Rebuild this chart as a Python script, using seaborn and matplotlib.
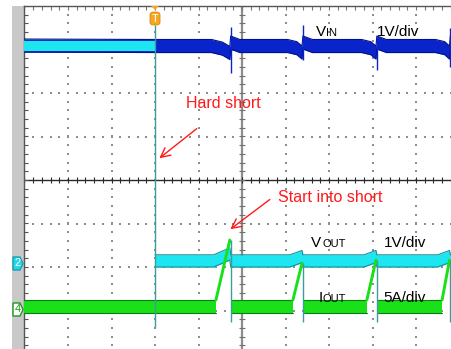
import numpy as np
import pandas as pd
import matplotlib
matplotlib.use("Agg")
import matplotlib.pyplot as plt
from matplotlib.patches import Polygon, Rectangle, FancyBboxPatch
import seaborn as sns

sns.set_style("white")
plt.rcParams['font.family'] = ['Liberation Sans', 'DejaVu Sans']

# ---- scope data, in graticule divisions (10 across, 8 high, 0 at centre) ----
trigger_t = 3.0
restart_t = [4.74, 6.40, 8.10, 9.79]

# V_IN band centre
vin_t = [0.0, 3.0, 4.30, 4.55, 4.72, 4.74, 4.95, 6.05, 6.26, 6.38, 6.40, 6.62,
         7.75, 7.96, 8.08, 8.10, 8.32, 9.45, 9.66, 9.77, 9.79, 10.0]
vin_v = [3.09, 3.08, 3.08, 3.02, 2.92, 3.16, 3.08, 3.08, 3.03, 2.93, 3.16, 3.08,
         3.08, 3.03, 2.93, 3.16, 3.08, 3.08, 3.03, 2.93, 3.16, 3.12]
vin_spike_lo = [2.46, 2.76, 2.53, 2.60]
vin_spike_hi = [3.52, 3.56, 3.28, 3.50]

# V_OUT before and after the short
vout_pre_t = [0.0, 3.0]
vout_pre_v = [3.09, 3.09]
vout_t = [3.0, 4.35, 4.72, 4.74, 6.10, 6.38, 6.40, 7.80, 8.08, 8.10,
          9.50, 9.77, 9.79, 10.0]
vout_v = [-1.86, -1.86, -1.70, -1.86, -1.86, -1.76, -1.86, -1.86, -1.76, -1.86,
          -1.86, -1.76, -1.86, -1.86]

# I_OUT: flat segments while in hiccup-off, ramps during each restart
iout_level = -2.91
iout_seg_start = [0.0, 4.76, 6.42, 8.12, 9.81]
iout_seg_end = [4.40, 6.17, 7.87, 9.60, 10.0]
iout_ramp_peak = [-1.38, -1.91, -1.84, -1.84]

trace_drop_bottom = -3.38
restart_drop_bottom = -3.26

band_vin, band_vout, band_iout = 0.15, 0.14, 0.15

C_VIN, C_VIN_EDGE = "#0a24cc", "#001488"
C_VOUT, C_VOUT_EDGE = "#1ee6f0", "#16909c"
C_IOUT, C_IOUT_EDGE = "#1ae01a", "#0a7f0a"
C_TEAL = "#3d9c9c"
C_RED = "#ff1a1a"

W, H = 452, 349
fig = plt.figure(figsize=(W / 100, H / 100), dpi=100)
fig.patch.set_facecolor("white")


def fx(px):
    return px / W


def fy(py):
    return 1 - py / H


# grey channel-marker strip on the left
fig.add_artist(Rectangle((fx(12), 0), fx(24) - fx(12), fy(6), transform=fig.transFigure,
                         facecolor="#c9c9c9", edgecolor="none", zorder=0))

ax = fig.add_axes([24.5 / W, (H - 354) / H, 435 / W, 348 / H])
ax.set_xlim(0, 10)
ax.set_ylim(-4, 4)
ax.set_xticks([])
ax.set_yticks([])
for side in ("right", "bottom"):
    ax.spines[side].set_visible(False)
for side in ("left", "top"):
    ax.spines[side].set_color("#555555")
    ax.spines[side].set_linewidth(1.0)

# ---- graticule ----
minor_x = np.arange(0, 10.01, 0.2)
minor_y = np.arange(-4, 4.01, 0.2)
gx, gy = [], []
for g in [1, 2, 3, 4, 6, 7, 8, 9]:
    gx += [g] * len(minor_y)
    gy += list(minor_y)
for g in [-3, -2, -1, 1, 2, 3]:
    gx += list(minor_x)
    gy += [g] * len(minor_x)
ax.scatter(gx, gy, s=2.2, marker="s", color="#8e8e8e", linewidths=0, zorder=1)
ax.axhline(0, color="#2a2a2a", lw=1.0, zorder=1)
ax.axvline(5, color="#8c8c8c", lw=1.6, zorder=1)
ax.plot(minor_x, np.zeros_like(minor_x), ls="none", marker="|", ms=5, mew=0.8,
        color="#2a2a2a", zorder=1)
ax.plot(np.full_like(minor_y, 5.0), minor_y, ls="none", marker="_", ms=5, mew=0.8,
        color="#707070", zorder=1)
ax.plot(np.zeros_like(minor_y), minor_y, ls="none", marker="_", ms=6, mew=0.8,
        color="#555555", zorder=1)
ax.plot(minor_x, np.full_like(minor_x, 4.0), ls="none", marker="|", ms=6, mew=0.8,
        color="#777777", zorder=1)


def band(t, v, half, fill, edge, z):
    t = np.asarray(t)
    v = np.asarray(v)
    ax.fill_between(t, v - half, v + half, color=fill, lw=0, zorder=z)
    df = pd.DataFrame({"t": np.concatenate([t, t]),
                       "v": np.concatenate([v + half, v - half]),
                       "edge": ["top"] * len(t) + ["bottom"] * len(t)})
    sns.lineplot(data=df, x="t", y="v", units="edge", estimator=None, sort=False,
                 color=edge, lw=0.8, ax=ax, zorder=z + 0.1, legend=False)


# ---- V_IN ----
band(vin_t, vin_v, band_vin, C_VIN, C_VIN_EDGE, 3)
ax.vlines(restart_t, vin_spike_lo, vin_spike_hi, color=C_VIN, lw=1.0, zorder=3.2)

# ---- V_OUT ----
band(vout_pre_t, vout_pre_v, band_vout - 0.03, C_VOUT, C_VOUT, 4)
band(vout_t, vout_v, band_vout, C_VOUT, C_VOUT_EDGE, 4)
ax.plot([restart_t[0] - 0.05, restart_t[0] - 0.02], [vout_v[2], iout_ramp_peak[0]],
        color=C_VOUT, lw=1.2, zorder=4.2)

# ---- I_OUT ----
for s, e in zip(iout_seg_start, iout_seg_end):
    band([s, e], [iout_level, iout_level], band_iout, C_IOUT, C_IOUT_EDGE, 5)
for s, r, p in zip(iout_seg_end, restart_t, iout_ramp_peak):
    ramp = pd.DataFrame({"t": [s, r - 0.02], "v": [iout_level + band_iout, p]})
    sns.lineplot(data=ramp, x="t", y="v", color=C_IOUT, lw=2.1, ax=ax, zorder=5.2,
                 legend=False)

# transition edges
ax.vlines([trigger_t], [trace_drop_bottom], [3.56], color=C_TEAL, lw=1.0, zorder=6)
ax.vlines(restart_t, restart_drop_bottom, iout_ramp_peak, color=C_TEAL, lw=1.0, zorder=6)

ax.set_xlabel("")
ax.set_ylabel("")

# ---- annotations ----
ann_font = dict(family=["Liberation Sans", "DejaVu Sans"], size=11.5)
ax.text(3.71, 1.75, "Hard short", color=C_RED, ha="left", va="center", zorder=8, **ann_font)
ax.text(5.83, -0.41, "Start into short", color=C_RED, ha="left", va="center", zorder=8,
        **ann_font)
ax.annotate("", xy=(3.05, 0.46), xytext=(4.01, 1.22), zorder=8,
            arrowprops=dict(arrowstyle="->", color=C_RED, lw=1.0, mutation_scale=17))
ax.annotate("", xy=(4.68, -1.17), xytext=(5.69, -0.41), zorder=8,
            arrowprops=dict(arrowstyle="->", color=C_RED, lw=1.0, mutation_scale=17))

lab = dict(color="black", va="baseline", ha="left", zorder=8)
ax.text(6.70, 3.31, "V", fontsize=11, **lab)
ax.text(6.93, 3.31, "IN", fontsize=8, **lab)
ax.text(8.10, 3.31, "1V/div", fontsize=11, **lab)
ax.text(6.59, -1.54, "V", fontsize=11, **lab)
ax.text(6.84, -1.54, "OUT", fontsize=8, **lab)
ax.text(8.26, -1.54, "1V/div", fontsize=11, **lab)
ax.text(6.75, -2.80, "I", fontsize=11, **lab)
ax.text(6.86, -2.80, "OUT", fontsize=8, **lab)
ax.text(8.26, -2.80, "5A/div", fontsize=11, **lab)

# ---- channel and trigger markers ----
def chan_marker(cy, face, edge, txt, tcol):
    pts = [(fx(13), fy(cy - 6.5)), (fx(20), fy(cy - 6.5)), (fx(23), fy(cy)),
           (fx(20), fy(cy + 6.5)), (fx(13), fy(cy + 6.5))]
    fig.add_artist(Polygon(pts, closed=True, transform=fig.transFigure,
                           facecolor=face, edgecolor=edge, lw=1.0, zorder=9))
    fig.text(fx(17.5), fy(cy), txt, color=tcol, fontsize=8, ha="center", va="center",
             zorder=10)


chan_marker(263.5, "#22d8ec", "#1aa0b0", "2", "white")
chan_marker(309.5, "white", "#1a9a1a", "4", "#1a9a1a")

fig.add_artist(Polygon([(fx(151), fy(6)), (fx(159), fy(6)), (fx(155), fy(10))],
                       closed=True, transform=fig.transFigure,
                       facecolor="#f5a623", edgecolor="none", zorder=9))
fig.add_artist(FancyBboxPatch((fx(150), fy(25)), fx(10), fy(12) - fy(25),
                              boxstyle="round,pad=0,rounding_size=0.008",
                              transform=fig.transFigure, facecolor="#f5a623",
                              edgecolor="#d88a10", lw=0.6, zorder=9))
fig.text(fx(155), fy(18.5), "T", color="white", fontsize=8, ha="center", va="center",
         zorder=10)

fig.savefig("out.png", dpi=100)
